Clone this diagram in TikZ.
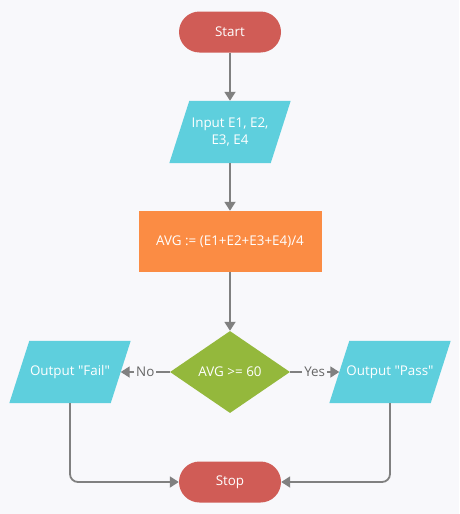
\documentclass[tikz,border=0pt]{standalone}
\usepackage{fontspec}
\setmainfont{Open Sans}
\usetikzlibrary{shapes.geometric,arrows.meta,backgrounds}
\definecolor{bgc}{HTML}{F8F8FB}
\definecolor{termc}{HTML}{D05C56}
\definecolor{ioc}{HTML}{5ECFDD}
\definecolor{procc}{HTML}{FB8C44}
\definecolor{decc}{HTML}{94B83C}
\definecolor{linec}{HTML}{808080}
\definecolor{labc}{HTML}{666666}
\tikzset{
  base/.style={text=white, font=\fontsize{13.4}{17}\selectfont, inner sep=0pt, align=center},
  term/.style={base, fill=termc, rectangle, rounded corners=20.5pt, minimum width=102pt, minimum height=41pt},
  io/.style={base, rectangle, minimum width=101pt, minimum height=62pt},
  iofill/.style={fill=ioc},
  proc/.style={base, fill=procc, rectangle, minimum width=183pt, minimum height=61pt},
  dec/.style={base, fill=decc, diamond, minimum width=120pt, minimum height=82pt},
  conn/.style={draw=linec, line width=1.8pt, -{Triangle[width=11pt,length=9pt]}},
  lab/.style={fill=bgc, text=labc, font=\fontsize{13.4}{17}\selectfont, inner sep=2pt}
}
\newcommand{\iopath}[1]{%
  \fill[iofill] ([xshift=10pt]#1.north west) -- ([xshift=10pt]#1.north east)
    -- ([xshift=-10pt]#1.south east) -- ([xshift=-10pt]#1.south west) -- cycle;}
\begin{document}
\begin{tikzpicture}[x=1pt,y=-1pt]
\useasboundingbox (0,0) rectangle (459,514);
\node[term] (start) at (230,32) {Start};
\node[io] (input) at (230,132) {Input E1, E2,\\E3, E4};
\node[proc] (avg) at (230,241.5) {AVG := (E1+E2+E3+E4)/4};
\node[dec] (dec) at (230,372) {AVG >= 60};
\node[io] (fail) at (70,372) {Output \textquotedbl Fail\textquotedbl};
\node[io] (pass) at (390,372) {Output \textquotedbl Pass\textquotedbl};
\node[term] (stop) at (230,482) {Stop};
\begin{scope}[on background layer]
\fill[bgc] (0,0) rectangle (459,514);
\iopath{input}
\iopath{fail}
\iopath{pass}
\end{scope}
\draw[conn] (start) -- (input);
\draw[conn] (input) -- (avg);
\draw[conn] (avg) -- (dec);
\draw[conn] (dec) -- node[lab, pos=0.5] {No} (fail);
\draw[conn] (dec) -- node[lab, pos=0.5] {Yes} (pass);
\draw[conn, rounded corners=8pt] (fail.south) |- (stop.west);
\draw[conn, rounded corners=8pt] (pass.south) |- (stop.east);
\end{tikzpicture}
\end{document}
